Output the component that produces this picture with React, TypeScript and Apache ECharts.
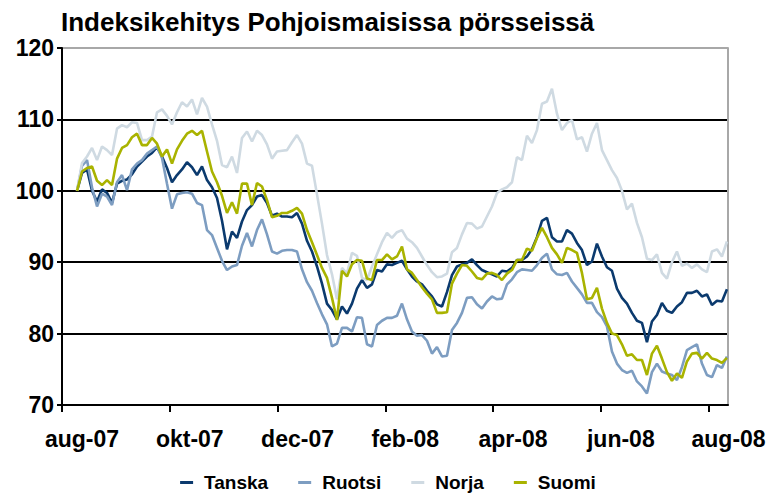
import React, { useEffect, useRef } from 'react';
import * as echarts from 'echarts';

const chartTitle = 'Indeksikehitys Pohjoismaisissa pörsseissä';
const monthLabels = ['aug-07', 'okt-07', 'dec-07', 'feb-08', 'apr-08', 'jun-08', 'aug-08'];
const seriesNames = ['Tanska', 'Ruotsi', 'Norja', 'Suomi'];
const seriesColors = ['#0b3a6e', '#7d9dc1', '#cfdae2', '#a9b300'];
const yTicks = { min: 70, max: 120, interval: 10 };
// x positions in days after 1 Aug 2007
const firstDay = 8.5;
const dayStep = 2.83;
const monthStep = 61;
const lastAxisDay = 377;

const tanska = [
  100, 102.5, 103, 100, 98.5, 100.2, 99.7, 98.3, 101, 101.4, 101.6, 102.3, 103.4, 104.1, 104.8, 105.3, 106.1, 104.8, 103.2, 101.2,
  102.2, 103, 104, 103.3, 102.2, 103.4, 101.5, 100.5, 99, 95.8, 91.8, 94.3, 93.4, 95.7, 97.3, 98, 99.2, 99.4, 98.3, 96.5, 96.8,
  96.4, 96.4, 96.3, 96.9, 95.4, 93, 91.5, 89.4, 87, 84.2, 83.3, 82, 83.8, 82.8, 84.2, 86.3, 87.5, 86.4, 86.9, 88.9,
  88.7, 89.7, 89.6, 89.9, 90.2, 89, 88, 87.3, 86.9, 86, 85.2, 84.1, 83.8, 85.8, 88.2, 89.4, 89.7, 89.9, 90.4, 89.6, 88.9, 88.6, 88.3, 88,
  88.8, 88.7, 89.2, 90.3, 90.3, 90.8, 91.8, 93.5, 95.8, 96.2, 93.5, 92.9, 92.9, 94.5, 94, 92.7, 91.7, 89.6, 90.1, 92.6,
  90.8, 89.3, 88.8, 86.3, 85, 84.2, 82.9, 81.8, 81.5, 78.8, 81.7, 82.6, 84.3, 83.2, 82.9, 83.8, 84.4, 85.7, 85.7, 86, 85.2, 85.5, 84, 84.6, 84.5, 86.2,
];
const ruotsi = [
  100, 103.5, 104.3, 100.5, 97.8, 99.6, 99.2, 98, 101.2, 102.2, 100.1, 103, 103.8, 104.3, 105.2, 105.7, 106.2, 104.6, 101, 97.5,
  99.5, 99.7, 99.8, 99.6, 98.3, 98, 94.5, 93.8, 92, 90.2, 88.9, 89.4, 89.6, 92.3, 94.1, 92.2, 94.5, 96, 93.9, 91.5, 91.2,
  91.6, 91.7, 91.7, 91.5, 89, 87.2, 86, 84.3, 82.7, 81.3, 78.2, 78.6, 80.8, 80.8, 80.3, 82.3, 82.2, 78.5, 78.2, 81.2,
  81.8, 82.2, 82.2, 82.5, 84.2, 82, 80.3, 79.7, 79.8, 79, 77.2, 78.1, 76.8, 76.9, 80.5, 81.5, 82.9, 85, 85.1, 84.1, 83.5, 84.5, 85.2, 84.8,
  84.9, 86.9, 87.6, 88.6, 89, 88.9, 88.8, 89.6, 90.6, 91.2, 89, 88.3, 88.2, 88.5, 87.3, 86.4, 85.5, 84.3, 84.3, 83,
  82.3, 81, 77.5, 75.8, 74.9, 74.5, 74.8, 73.3, 72.6, 71.6, 74.6, 75.8, 74.7, 74.4, 74.2, 73.5, 75.3, 77.7, 78.1, 78.5, 75.8, 74.2, 73.9, 75.6, 75.2, 76.8,
];
const norja = [
  100, 103.9, 104.8, 106, 104.3, 106.2, 105.7, 105, 108.7, 109.2, 108.9, 109.6, 109.5, 107.1, 107.1, 107.6, 111, 111.4, 110.5, 109.3,
  111, 112.4, 111.8, 112.8, 110.7, 113, 111.8, 109.3, 107, 103.6, 103.3, 104.8, 102.5, 107.4, 108.3, 106.9, 108.4, 107.8, 106.5, 104.5, 105.5,
  105.6, 105.7, 106.8, 107.8, 106.6, 103.8, 103.5, 99.5, 95.4, 91, 88.3, 84.8, 89.2, 88.4, 91.3, 90.9, 87.8, 87.5, 89.4, 91.1,
  92.8, 94.1, 93.4, 94.2, 94.5, 93.3, 92.8, 92, 90.8, 89.6, 88.6, 87.9, 88, 88.4, 91.4, 92, 93.9, 95.5, 95.4, 94.7, 95, 96.4, 97.8, 99.7,
  100.2, 100.5, 101.2, 104.7, 104.3, 107.7, 106.7, 108.5, 112.2, 112.5, 114.3, 110.8, 108.5, 109.5, 109.9, 107.2, 107.5, 105.5, 108, 109.5,
  105.7, 104.3, 102.9, 101.8, 100, 97.4, 98.2, 95.5, 93.5, 90.5, 90.3, 91.1, 88.5, 87.7, 90, 91.5, 89.5, 89.8, 89.2, 89.7, 89, 88.6, 91.5, 91.8, 90.8, 92.9,
];
const suomi = [
  100, 102.7, 103.2, 103.4, 101.4, 100.8, 101.5, 100.8, 104.5, 106, 106.4, 107.5, 108, 106.4, 106.4, 107.4, 106.6, 104.8, 105.8, 103.8,
  105.8, 107, 108, 108.4, 107.8, 108.4, 105.5, 102.7, 101.2, 99.3, 96.9, 98.4, 96.8, 101, 101, 98, 101.1, 100.6, 98.7, 96.3, 96.5,
  96.9, 96.9, 97.2, 97.6, 96.8, 94.5, 92.8, 91, 89.2, 87.8, 85, 81.9, 88.8, 88, 89.7, 90.3, 90.2, 87.7, 87.5, 90.3,
  90.3, 91.1, 90.4, 90.8, 92.2, 89, 88.5, 87.5, 86.5, 85.6, 84.8, 82.9, 82.9, 83, 87, 88.4, 89.6, 89.5, 88.7, 87.8, 87.6, 88.4, 88.5, 88.2,
  87.5, 88.4, 88.9, 90.3, 90.3, 91.9, 91.6, 93.4, 94.8, 93.5, 92, 91.1, 89.9, 92, 91.7, 91.3, 88.5, 84.8, 85, 86.4,
  83.5, 81.5, 80, 79.8, 78.5, 76.9, 77.1, 76.3, 76.3, 74.2, 77.2, 78.3, 76.5, 74.6, 73.4, 74.4, 73.8, 76.1, 77.2, 77.3, 76.5, 77.3, 76.5, 76.3, 75.9, 76.6,
];

const allValues = [tanska, ruotsi, norja, suomi];
const FONT = '"Liberation Sans", Arial, sans-serif';

export default function App() {
  const ref = useRef<HTMLDivElement>(null);
  useEffect(() => {
    if (!ref.current) return;
    const chart = echarts.init(ref.current, undefined, { renderer: 'svg' });
    const series = allValues.map((vals, si) => ({
      name: seriesNames[si],
      type: 'line',
      data: vals.map((v, i) => [firstDay + i * dayStep, v]),
      showSymbol: false,
      symbol: 'none',
      lineStyle: { color: seriesColors[si], width: 2.6 },
      itemStyle: { color: seriesColors[si] },
      yAxisIndex: 0,
    }));
    chart.setOption({
      animation: false,
      backgroundColor: '#ffffff',
      title: {
        text: chartTitle,
        left: 56,
        top: 4,
        textStyle: { fontFamily: FONT, fontWeight: 'bold', fontSize: 26, color: '#000' },
      },
      legend: {
        bottom: -1,
        left: 'center',
        icon: 'rect',
        itemWidth: 13,
        itemHeight: 3,
        itemGap: 30,
        data: seriesNames,
        textStyle: { fontFamily: FONT, fontWeight: 'bold', fontSize: 19, color: '#000', padding: [0, 0, 0, 6] },
      },
      grid: { left: 62, right: 48, top: 48, bottom: 91, containLabel: false },
      xAxis: {
        type: 'value',
        min: 0,
        max: lastAxisDay,
        interval: monthStep,
        axisLine: { show: true, lineStyle: { color: '#000', width: 2 } },
        axisTick: { show: true, inside: false, length: 7, lineStyle: { color: '#000', width: 2 } },
        splitLine: { show: false },
        axisLabel: {
          margin: 22,
          showMaxLabel: false,
          padding: [0, 0, 0, 40],
          fontFamily: FONT,
          fontWeight: 'bold',
          fontSize: 23,
          color: '#000',
          formatter: (v: number) => {
            const i = v / monthStep;
            return Number.isInteger(i) && i < monthLabels.length ? monthLabels[i] : '';
          },
        },
      },
      yAxis: [
        {
          type: 'value',
          min: yTicks.min,
          max: yTicks.max,
          interval: yTicks.interval,
          axisLine: { show: true, lineStyle: { color: '#000', width: 2 } },
          axisTick: { show: true, inside: false, length: 5, lineStyle: { color: '#000', width: 2 } },
          axisLabel: { margin: 8, fontFamily: FONT, fontWeight: 'bold', fontSize: 23, color: '#000' },
          splitLine: {
            show: true,
            lineStyle: { color: ['#000', '#000', '#000', '#000', '#000', '#a8a8a8'], width: 2 },
          },
        },
        {
          type: 'value',
          position: 'right',
          min: yTicks.min,
          max: yTicks.max,
          interval: yTicks.interval,
          axisLine: { show: true, lineStyle: { color: '#a8a8a8', width: 2 } },
          axisTick: { show: false },
          axisLabel: { show: false },
          splitLine: { show: false },
        },
      ],
      series,
    });
    return () => chart.dispose();
  }, []);
  return (
    <div
      ref={ref}
      style={{ position: 'absolute', left: 0, top: 0, width: 776, height: 496, background: '#fff' }}
    />
  );
}
